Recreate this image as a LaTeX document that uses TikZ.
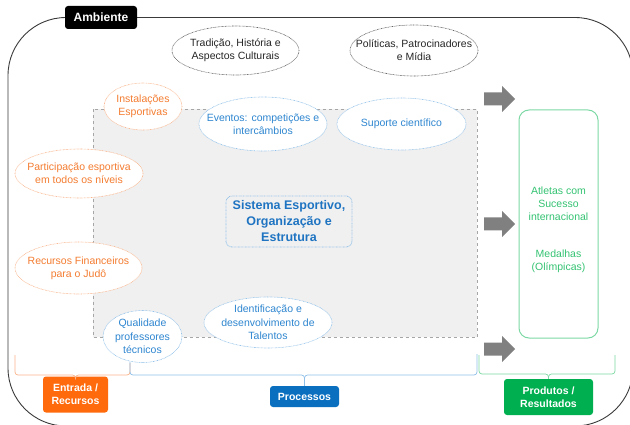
\documentclass[tikz,border=0pt]{standalone}
\usepackage{fontspec}
\setmainfont{Liberation Sans}
\usetikzlibrary{shapes.geometric}
\definecolor{ORtext}{HTML}{F47C30}
\definecolor{ORline}{HTML}{F9B38A}
\definecolor{BLtext}{HTML}{2E86D0}
\definecolor{BLline}{HTML}{8DBFE8}
\definecolor{GNtext}{HTML}{33C271}
\definecolor{GNline}{HTML}{7ED8A5}
\definecolor{ORfill}{HTML}{FF6A0D}
\definecolor{BLfill}{HTML}{0B6FC0}
\definecolor{GNfill}{HTML}{00B050}
\definecolor{SYStext}{HTML}{1F74C2}
\definecolor{FRline}{HTML}{3A3A3A}
\definecolor{ARfill}{HTML}{808080}
\definecolor{BKline}{HTML}{555555}
\definecolor{BKtext}{HTML}{262626}
\newcommand{\ovalnode}[8]{%
  \draw[ovalline, draw=#6] (#2,#3) ellipse [x radius=#4, y radius=#5];
  \node[ovaltext, text=#7] (#1) at (#2,#3) {#8};}
\begin{document}
\begin{tikzpicture}[x=1pt,y=-1pt,
  ovalline/.style={fill=white, line width=0.6pt, dash pattern=on 0.7pt off 0.7pt},
  ovaltext/.style={align=center, inner sep=0pt, font=\fontsize{10.5}{13.3}\selectfont},
  tag/.style={rounded corners=3pt, text=white, align=center, inner sep=0pt,
    font=\bfseries\fontsize{10.5}{12.6}\selectfont},
  brace/.style={line width=0.7pt, rounded corners=3pt},
  blockarrow/.style={fill=ARfill, draw=none}]
\useasboundingbox (0,0) rectangle (630,425);
% outer frame
\begin{scope}
  \clip (0,0) rectangle (630,425);
  \draw[FRline, line width=0.9pt, rounded corners=58pt] (8,17.5) rectangle (633,426);
\end{scope}
\node[tag, fill=black, minimum width=72pt, minimum height=23pt,
  font=\bfseries\fontsize{12}{14}\selectfont] (amb) at (101,17.5) {Ambiente};
% process area
\draw[gray!70, dashed, line width=0.8pt, fill=black!6] (93,109.5) rectangle (477,337);
% environment ovals
\ovalnode{trad}{235.5}{50.5}{63.5}{24.5}{BKline}{BKtext}{Tradição, História e\\Aspectos Culturais}
\ovalnode{poli}{414}{50.5}{64}{25.5}{BKline}{BKtext}{Políticas, Patrocinadores\\e Mídia}
% input ovals
\ovalnode{inst}{143}{106.5}{39}{23.5}{ORline}{ORtext}{Instalações\\Esportivas}
\ovalnode{part}{79}{173.5}{64}{24.5}{ORline}{ORtext}{Participação esportiva\\em todos os níveis}
\ovalnode{recu}{78.5}{268}{63.5}{26}{ORline}{ORtext}{Recursos Financeiros\\para o Judô}
% process ovals
\ovalnode{even}{263}{124}{64}{27}{BLline}{BLtext}{Eventos: competições e\\intercâmbios}
\ovalnode{supo}{401.5}{124}{64.5}{26}{BLline}{BLtext}{Suporte científico}
\ovalnode{qual}{142.5}{336.5}{39.5}{26}{BLline}{BLtext}{Qualidade\\professores\\técnicos}
\ovalnode{iden}{268}{322.5}{64}{25.5}{BLline}{BLtext}{Identificação e\\desenvolvimento de\\Talentos}
% central system
\node[draw=BLline, line width=0.8pt, dash pattern=on 0.7pt off 0.7pt, rounded corners=6pt,
  minimum width=126pt, minimum height=51pt, align=center, inner sep=0pt, text=SYStext,
  font=\bfseries\fontsize{12.5}{16}\selectfont] (sist) at (289,221.5)
  {Sistema Esportivo,\\Organização e\\Estrutura};
% block arrows
\foreach \yy in {99,224,349}{
  \fill[blockarrow] (484,\yy-6.5) -- (502,\yy-6.5) -- (502,\yy-13) -- (515,\yy)
    -- (502,\yy+13) -- (502,\yy+6.5) -- (484,\yy+6.5) -- cycle;}
% results box
\draw[GNline, line width=1pt, rounded corners=10pt] (519,110) rectangle (598,338);
\node[align=center, text=GNtext, inner sep=0pt, font=\fontsize{10.5}{12.8}\selectfont]
  (atle) at (558.5,204) {Atletas com\\Sucesso\\internacional};
\node[align=center, text=GNtext, inner sep=0pt, font=\fontsize{10.5}{12.8}\selectfont]
  (meda) at (558.5,261.5) {Medalhas\\(Olímpicas)};
% category labels
\node[tag, fill=ORfill, minimum width=65pt, minimum height=36pt] (entr) at (75.5,394.5)
  {Entrada /\\Recursos};
\node[tag, fill=BLfill, minimum width=69pt, minimum height=21pt] (proc) at (304.5,396.5)
  {Processos};
\node[tag, fill=GNfill, minimum width=89pt, minimum height=36pt,
  font=\bfseries\fontsize{10.5}{13}\selectfont] (prod) at (548.5,397)
  {Produtos /\\Resultados};
% braces
\coordinate (oL) at (15,355); \coordinate (oR) at (130,363);
\draw[brace, ORline] (oL) |- (entr.north |- 0,375) -- (entr.north);
\draw[brace, ORline] (oR) |- (entr.north |- 0,375) -- (entr.north);
\coordinate (bL) at (130,362); \coordinate (bR) at (477,354);
\draw[brace, BLline] (bL) |- (proc.north |- 0,375) -- (proc.north);
\draw[brace, BLline] (bR) |- (proc.north |- 0,375) -- (proc.north);
\coordinate (gL) at (479,355); \coordinate (gR) at (615,355);
\draw[brace, GNline] (gL) |- (prod.north |- 0,374) -- (prod.north);
\draw[brace, GNline] (gR) |- (prod.north |- 0,374) -- (prod.north);
\end{tikzpicture}
\end{document}
